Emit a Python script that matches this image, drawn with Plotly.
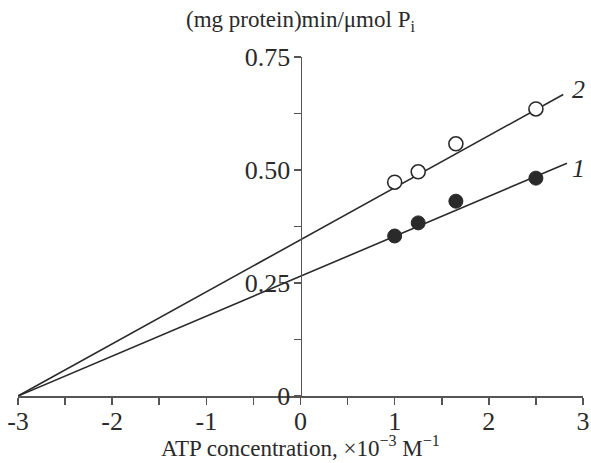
import plotly.graph_objects as go

# data
x_pts = [1.0, 1.25, 1.65, 2.5]
y_series1 = [0.354, 0.383, 0.431, 0.482]   # filled circles, curve 1
y_series2 = [0.473, 0.496, 0.558, 0.635]   # open circles, curve 2
line1_x = [-3.0, 2.83]
line1_y = [0.0, 0.515]
line2_x = [-3.0, 2.79]
line2_y = [0.0, 0.667]
x_ticks = [-3, -2, -1, 0, 1, 2, 3]
x_ticklabels = ["-3", "-2", "-1", "0", "1", "2", "3"]
y_ticks = [0, 0.25, 0.5, 0.75]
y_ticklabels = ["0", "0.25", "0.50", "0.75"]

FONT = "Liberation Serif"
INK = "#2a2a2a"
AX = "#555555"
TICKFONT = dict(family=FONT, size=26, color=INK)

fig = go.Figure()
fig.add_trace(go.Scatter(x=line1_x, y=line1_y, mode="lines",
                         line=dict(color=INK, width=1.6), cliponaxis=False, showlegend=False))
fig.add_trace(go.Scatter(x=line2_x, y=line2_y, mode="lines",
                         line=dict(color=INK, width=1.6), cliponaxis=False, showlegend=False))
fig.add_trace(go.Scatter(x=x_pts, y=y_series1, mode="markers",
                         marker=dict(size=14, color=INK, line=dict(color=INK, width=1)),
                         cliponaxis=False, showlegend=False))
fig.add_trace(go.Scatter(x=x_pts, y=y_series2, mode="markers",
                         marker=dict(size=14, color="white", line=dict(color=INK, width=1.6)),
                         cliponaxis=False, showlegend=False))

fig.add_annotation(x=line2_x[-1], y=line2_y[-1], text="<i>2</i>", showarrow=False,
                   xanchor="left", yanchor="middle", xshift=7, yshift=5,
                   font=dict(family=FONT, size=26, color=INK))
fig.add_annotation(x=line1_x[-1], y=line1_y[-1], text="<i>1</i>", showarrow=False,
                   xanchor="left", yanchor="middle", xshift=3, yshift=-5,
                   font=dict(family=FONT, size=26, color=INK))

fig.add_annotation(x=0.5, xref="paper", y=1.105, yref="paper", yanchor="middle",
                   text="(mg protein)min/μmol P<sub>i</sub>", showarrow=False,
                   font=dict(family=FONT, size=23, color=INK))
fig.add_annotation(x=0.5, xref="paper", y=-0.148, yref="paper", yanchor="middle",
                   text="ATP concentration, ×10<sup>−3</sup> M<sup>−1</sup>", showarrow=False,
                   font=dict(family=FONT, size=23, color=INK))

fig.update_layout(
    width=591, height=463,
    margin=dict(l=18, r=8, t=57, b=67),
    paper_bgcolor="white", plot_bgcolor="white",
    font=dict(family=FONT, size=22, color=INK),
    hovermode=False,
    xaxis=dict(range=[-3, 3], showgrid=False, zeroline=False, automargin=False,
               showline=True, linecolor=AX, linewidth=1.6,
               ticks="outside", ticklen=7, tickwidth=1.6, tickcolor=AX,
               tickvals=x_ticks, ticktext=x_ticklabels, tickfont=TICKFONT,
               ticklabeloverflow="allow", ticklabelstandoff=-6,
               minor=dict(dtick=0.5, ticks="outside", ticklen=7, tickwidth=1.6, tickcolor=AX)),
    yaxis=dict(range=[0, 0.75], showgrid=False, zeroline=False, automargin=False,
               anchor="free", position=0.5,
               showline=True, linecolor=AX, linewidth=1.6,
               ticks="outside", ticklen=7, tickwidth=1.6, tickcolor=AX,
               tickvals=y_ticks, ticktext=y_ticklabels, tickfont=TICKFONT,
               ticklabeloverflow="allow", ticklabelstandoff=-2,
               minor=dict(dtick=0.125, ticks="outside", ticklen=7, tickwidth=1.6, tickcolor=AX)),
)

fig.write_html("out.html", config={"displayModeBar": False, "staticPlot": True},
               post_script="document.body.style.margin='0';document.body.style.overflow='hidden';")
